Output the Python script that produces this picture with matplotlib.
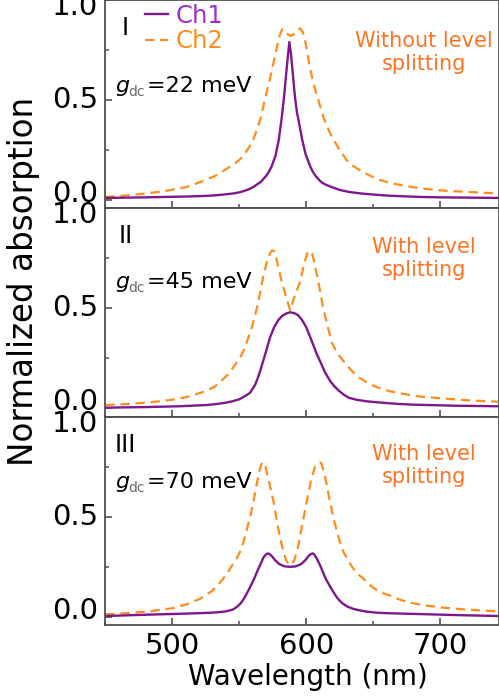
import numpy as np
import matplotlib
matplotlib.use("Agg")
import matplotlib.pyplot as plt
from matplotlib.ticker import MultipleLocator

# ── spectra read per panel: wavelength (nm) / normalized absorption ───────────
# panel I, g_dc = 22 meV
wl_ch1_i = [450, 480, 495, 510, 520, 530, 537, 545, 550, 555, 558, 561, 566, 570,
            572, 574, 577, 579.5, 581.5, 583.5, 585, 586.3, 587.4, 588.6, 590,
            591.5, 593, 594.5, 597, 599.5, 603, 605, 607, 611, 614, 618, 625, 632,
            640, 650, 660, 670, 685, 700, 715, 743]
ab_ch1_i = [0.010, 0.013, 0.015, 0.017, 0.019, 0.022, 0.026, 0.032, 0.038, 0.048,
            0.056, 0.067, 0.090, 0.120, 0.140, 0.165, 0.220, 0.300, 0.400, 0.520,
            0.630, 0.720, 0.790, 0.730, 0.630, 0.520, 0.440, 0.390, 0.300, 0.230,
            0.167, 0.140, 0.120, 0.090, 0.078, 0.067, 0.050, 0.040, 0.033, 0.027,
            0.022, 0.019, 0.015, 0.013, 0.012, 0.010]
wl_ch2_i = [450, 465, 480, 495, 510, 517, 525, 532, 538, 545, 550, 554, 557, 560,
            562, 564, 566, 569, 572, 575, 578, 580, 582, 584, 586, 588.4, 591, 593,
            595.4, 597.5, 600, 602.4, 605.5, 609, 613, 618, 624, 627, 630, 635, 641,
            648, 655, 662, 670, 685, 700, 720, 743]
ab_ch2_i = [0.015, 0.022, 0.032, 0.045, 0.064, 0.080, 0.100, 0.120, 0.145, 0.175,
            0.200, 0.230, 0.260, 0.295, 0.330, 0.370, 0.410, 0.500, 0.580, 0.670,
            0.760, 0.820, 0.853, 0.850, 0.830, 0.820, 0.830, 0.850, 0.858, 0.840,
            0.770, 0.670, 0.580, 0.500, 0.410, 0.330, 0.260, 0.230, 0.200, 0.170,
            0.145, 0.120, 0.100, 0.086, 0.075, 0.058, 0.048, 0.040, 0.033]

# panel II, g_dc = 45 meV
wl_ch1_ii = [450, 480, 505, 525, 530, 535, 540, 545, 550, 554, 558, 560, 562, 564,
             566, 568, 570, 573, 576, 579, 582, 585, 588, 591, 594, 597, 600, 603,
             606.5, 608, 610, 612, 614, 616, 618, 621, 624, 628, 632, 638, 645, 651,
             658, 668, 680, 710, 743]
ab_ch1_ii = [0.003, 0.006, 0.010, 0.016, 0.019, 0.023, 0.028, 0.035, 0.045, 0.060,
             0.077, 0.097, 0.120, 0.155, 0.195, 0.240, 0.285, 0.355, 0.405, 0.440,
             0.462, 0.474, 0.480, 0.476, 0.465, 0.440, 0.405, 0.355, 0.295, 0.268,
             0.240, 0.210, 0.180, 0.157, 0.135, 0.110, 0.090, 0.068, 0.052, 0.042,
             0.035, 0.031, 0.027, 0.022, 0.018, 0.013, 0.010]
wl_ch2_ii = [450, 465, 483, 500, 510, 515, 521, 527, 532, 537, 543, 546, 550, 553,
             555.5, 558, 560, 563, 566, 568, 571, 573, 574, 575, 576, 577, 579,
             581.7, 585, 588, 591, 595.4, 598, 600.4, 601.4, 602.4, 603.4, 604.5,
             606, 608, 610.5, 612.8, 616, 619, 622, 625, 629, 633, 638, 645, 651,
             657.6, 664, 670, 683, 700, 720, 743]
ab_ch2_ii = [0.016, 0.021, 0.029, 0.043, 0.055, 0.065, 0.077, 0.092, 0.110, 0.140,
             0.178, 0.210, 0.245, 0.285, 0.330, 0.375, 0.420, 0.497, 0.590, 0.666,
             0.740, 0.775, 0.786, 0.790, 0.785, 0.770, 0.710, 0.632, 0.555, 0.490,
             0.555, 0.632, 0.710, 0.770, 0.782, 0.787, 0.783, 0.770, 0.730, 0.666,
             0.580, 0.497, 0.410, 0.330, 0.290, 0.260, 0.225, 0.194, 0.160, 0.130,
             0.110, 0.093, 0.083, 0.075, 0.060, 0.050, 0.040, 0.033]

# panel III, g_dc = 70 meV
wl_ch1_iii = [450, 483, 510, 520, 533, 540, 545.5, 548.5, 551, 553, 555, 557, 559,
              561.5, 563.5, 565.5, 568, 569.5, 571, 572.5, 574, 577, 580, 584, 588,
              592, 596, 599, 602, 603.5, 605, 606.3, 607.5, 610.3, 612.5, 614.5, 617,
              619, 621, 623, 625, 627.7, 631, 635, 640, 645, 652, 660, 683, 710, 743]
ab_ch1_iii = [0.003, 0.010, 0.015, 0.017, 0.021, 0.026, 0.036, 0.050, 0.066, 0.085,
              0.108, 0.133, 0.160, 0.195, 0.228, 0.257, 0.295, 0.308, 0.316, 0.313,
              0.305, 0.280, 0.262, 0.251, 0.249, 0.251, 0.262, 0.280, 0.305, 0.313,
              0.316, 0.308, 0.295, 0.257, 0.222, 0.190, 0.160, 0.137, 0.115, 0.095,
              0.079, 0.063, 0.049, 0.039, 0.031, 0.025, 0.020, 0.017, 0.013, 0.008,
              0.003]
wl_ch2_iii = [450, 465, 483, 500, 510, 516, 520.7, 525, 530, 534, 538, 541.5, 545,
              548, 550.6, 553, 555, 558, 561, 563, 565.5, 566.5, 567.5, 568.5, 569.5,
              572, 575.5, 578.5, 581.7, 585, 588, 591, 594.2, 597, 600.4, 603.5,
              606.5, 608.5, 609.4, 610.3, 611.3, 612.5, 615.3, 617.5, 620.3, 623.5,
              625.5, 627.7, 630.5, 634, 638, 642.7, 647, 652, 657, 662.6, 667, 672,
              677, 682.6, 690, 700, 720, 743]
ab_ch2_iii = [0.011, 0.017, 0.026, 0.042, 0.060, 0.076, 0.089, 0.108, 0.130, 0.158,
              0.190, 0.222, 0.260, 0.290, 0.325, 0.370, 0.420, 0.494, 0.590, 0.662,
              0.740, 0.762, 0.772, 0.765, 0.750, 0.680, 0.578, 0.460, 0.358, 0.280,
              0.257, 0.280, 0.358, 0.460, 0.578, 0.680, 0.750, 0.762, 0.770, 0.772,
              0.765, 0.740, 0.662, 0.580, 0.494, 0.410, 0.365, 0.325, 0.290, 0.250,
              0.215, 0.190, 0.160, 0.135, 0.118, 0.105, 0.092, 0.080, 0.071, 0.063,
              0.055, 0.046, 0.035, 0.026]

roman = ["I", "II", "III"]
g_dc = ["22", "45", "70"]
notes = ["Without level\nsplitting", "With level\nsplitting", "With level\nsplitting"]
ytick_vals = [0.0, 0.5, 1.0]
ytick_text = ["0.0", "0.5", "1.0"]
xtick_vals = [500, 600, 700]

C_CH1 = "#7f168d"
C_CH1_TXT = "#9a2fcc"
C_CH2 = "#ff8c1f"
C_NOTE = "#ff7424"
C_AX = "#505050"

plt.rcParams.update({
    "font.family": "DejaVu Sans",
    "axes.linewidth": 1.3,
    "axes.edgecolor": C_AX,
    "xtick.direction": "in",
    "ytick.direction": "in",
    "lines.solid_joinstyle": "round",
    "lines.dash_joinstyle": "round",
})

W, H = 499, 698
fig = plt.figure(figsize=(W / 100, H / 100), dpi=100)

# panel geometry in pixels
left_px, right_px = 105.3, 498.5
bottom_px, panel_px = 625.0, 208.33
ax_w = (right_px - left_px) / W
ax_h = panel_px / H

# per-panel text rows (pixels below the panel top)
g_base_px = [92, 79.5, 71]
note_mid_px = [52.5, 50, 48.5]

spectra = [
    (wl_ch1_i, ab_ch1_i, wl_ch2_i, ab_ch2_i),
    (wl_ch1_ii, ab_ch1_ii, wl_ch2_ii, ab_ch2_ii),
    (wl_ch1_iii, ab_ch1_iii, wl_ch2_iii, ab_ch2_iii),
]


def fx(px):
    return (px - left_px) / (right_px - left_px)


def fy(px):
    return 1 - px / panel_px


for k in range(3):
    b = (H - bottom_px + (2 - k) * panel_px) / H
    ax = fig.add_axes([left_px / W, b, ax_w, ax_h])
    w1, a1, w2, a2 = spectra[k]
    l2, = ax.plot(w2, a2, color=C_CH2, lw=1.6, ls=(0, (4.2, 2.6)), label="Ch2")
    l1, = ax.plot(w1, a1, color=C_CH1, lw=1.7, label="Ch1")

    ax.set_xlim(450, 743.5)
    ax.set_ylim(-0.042, 1.0)
    ax.set_xticks(xtick_vals)
    ax.xaxis.set_minor_locator(MultipleLocator(50))
    ax.set_yticks(ytick_vals)
    ax.yaxis.set_minor_locator(MultipleLocator(0.25))
    ax.tick_params(which="major", length=5, width=1.2, color=C_AX,
                   labelsize=21, pad=5)
    ax.tick_params(which="minor", length=3, width=1.1, color=C_AX)
    ax.set_yticklabels([])
    if k < 2:
        ax.set_xticklabels([])

    # y tick labels, nudged so the stacked 0.0 / 1.0 pairs do not collide
    ytr = ax.get_yaxis_transform()
    for txt, yv in zip(ytick_text, [0.03, 0.5, 0.965]):
        ax.text(-7 / (right_px - left_px), yv, txt, transform=ytr,
                ha="right", va="center", fontsize=21, color="black")

    ax.text(fx(125.5), fy(35), roman[k], transform=ax.transAxes,
            ha="center", va="baseline", fontsize=17)
    gb = g_base_px[k]
    ax.text(fx(115), fy(gb), "g", transform=ax.transAxes, style="italic",
            ha="left", va="baseline", fontsize=16)
    ax.text(fx(128), fy(gb + 4), "dc", transform=ax.transAxes, color="#6a6a6a",
            ha="left", va="baseline", fontsize=10)
    ax.text(fx(147), fy(gb), f"={g_dc[k]} meV", transform=ax.transAxes,
            ha="left", va="baseline", fontsize=16)
    ax.text(fx(424), fy(note_mid_px[k]), notes[k], transform=ax.transAxes,
            ha="center", va="center", multialignment="center",
            fontsize=15, color=C_NOTE, linespacing=1.2)

    if k == 0:
        leg = ax.legend(handles=[l1, l2], loc="upper left",
                        bbox_to_anchor=(fx(145), fy(3.5)), frameon=False,
                        fontsize=17.5, handlelength=0.95, handletextpad=0.3,
                        labelspacing=0.08, borderpad=0, borderaxespad=0)
        for t, c in zip(leg.get_texts(), [C_CH1_TXT, C_CH2]):
            t.set_color(c)

fig.text(308 / W, 1 - 677 / H, "Wavelength (nm)", ha="center", va="center",
         fontsize=20)
fig.text(24 / W, 1 - 281 / H, "Normalized absorption", rotation=90,
         ha="center", va="center", fontsize=23.5)

fig.savefig("out.png", dpi=100)
